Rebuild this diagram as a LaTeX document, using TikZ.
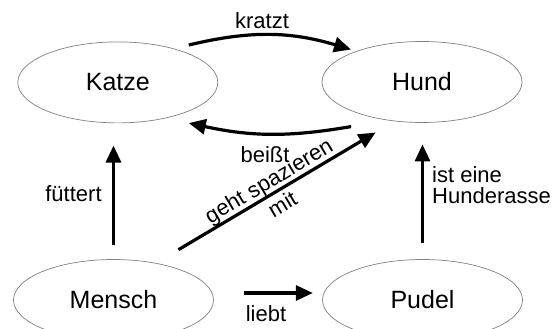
\documentclass[tikz,border=0pt]{standalone}
\usepackage{fontspec}
\setmainfont{Liberation Sans}
\usetikzlibrary{shapes.geometric,arrows.meta}

\begin{document}
\begin{tikzpicture}[x=1pt, y=1pt,
  concept/.style={draw=gray, line width=0.7pt, ellipse, minimum width=200pt, minimum height=81pt, inner sep=0pt, font=\fontsize{25}{28}\selectfont},
  rel/.style={line width=3.2pt, -{Triangle[length=17pt,width=15pt]}},
  lbl/.style={font=\fontsize{22}{20.5}\selectfont, inner sep=0pt}]
\useasboundingbox (0,0) rectangle (558,329);

% Concepts
\node[concept] (katze) at (117.8,246.6) {Katze};
\node[concept] (hund) at (422,247) {Hund};
\node[concept] (mensch) at (113.5,29) {Mensch};
\node[concept] (pudel) at (422.5,29) {Pudel};

% Katze <-> Hund
\draw[rel] ([yshift=8.5pt]katze.north east) to[bend left=15] ([yshift=3.6pt]hund.north west);
\node[lbl] (kratzt) at (262,308) {kratzt};
\draw[rel] ([yshift=-15.7pt]hund.south west) to[bend left=11] ([yshift=-11.8pt]katze.south east);
\node[lbl] (beisst) at (265,174) {beißt};

% Mensch -> Katze
\draw[rel, shorten <=14pt, shorten >=22.3pt] (mensch.north) -- (mensch.north |- katze.south);
\node[lbl] (fuettert) at (73.5,135) {füttert};

% Pudel -> Hund
\draw[rel, shorten <=16pt, shorten >=21.6pt] (pudel.north) -- (pudel.north |- hund.south);
\node[lbl, anchor=west, align=left] (rasse) at (432,144) {ist eine\\Hunderasse};

% Mensch -> Hund
\draw[rel, shorten <=26pt, shorten >=22pt] (mensch.41.9) -- (hund.235.9)
  node[lbl, font=\fontsize{22}{27}\selectfont, midway, sloped, align=center] (spazieren) {geht spazieren\\mit};

% Mensch -> Pudel
\draw[rel, shorten <=30.5pt, shorten >=9.3pt] ([yshift=7pt]mensch.east) -- ([yshift=7pt]pudel.west);
\node[lbl] (liebt) at (266,15) {liebt};
\end{tikzpicture}
\end{document}
